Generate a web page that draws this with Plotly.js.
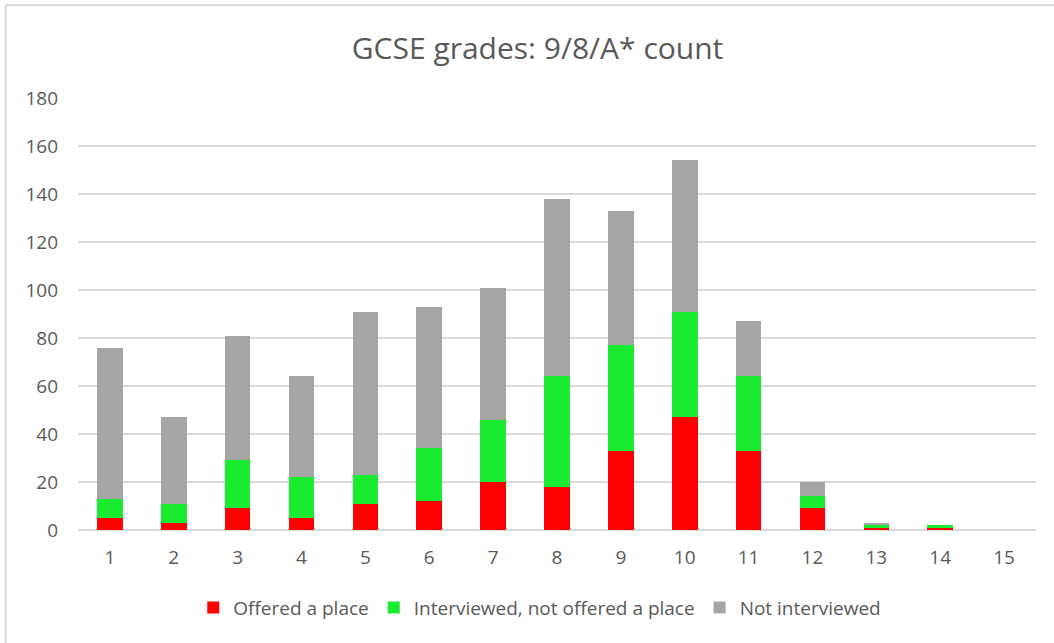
<!DOCTYPE html>
<html>
<head>
<meta charset="utf-8">
<script src="https://cdn.plot.ly/plotly-3.0.1.min.js"></script>
<style>
html,body{margin:0;padding:0;background:#fff;}
#chart{width:1054px;height:643px;}
</style>
</head>
<body>
<div id="chart"></div>
<script>
const categories = ["1","2","3","4","5","6","7","8","9","10","11","12","13","14","15"];
const offered = [5, 3, 9, 5, 11, 12, 20, 18, 33, 47, 33, 9, 1, 1, 0];
const interviewedNotOffered = [8, 8, 20, 17, 12, 22, 26, 46, 44, 44, 31, 5, 1, 1, 0];
const notInterviewed = [63, 36, 52, 42, 68, 59, 55, 74, 56, 63, 23, 6, 1, 0, 0];
const seriesNames = ["Offered a place", "Interviewed, not offered a place", "Not interviewed"];
const seriesColors = ["#FF0000", "#19EB30", "#A5A5A5"];
const yTicks = [0, 20, 40, 60, 80, 100, 120, 140, 160, 180];

const textColor = "#595959";
const fontFam = "'Open Sans', 'Noto Sans', sans-serif";

const data = [offered, interviewedNotOffered, notInterviewed].map((vals, i) => ({
  type: "bar",
  x: categories,
  y: vals,
  name: seriesNames[i],
  marker: {color: seriesColors[i], line: {width: 0}},
  hoverinfo: "x+y+name"
}));

const layout = {
  width: 1054,
  height: 643,
  paper_bgcolor: "#ffffff",
  plot_bgcolor: "#ffffff",
  barmode: "stack",
  bargap: 0.6,
  margin: {l: 78, r: 18, t: 98, b: 113},
  title: {
    text: "GCSE grades: 9/8/A* count",
    font: {family: fontFam, size: 30, color: textColor},
    x: 0.51, xanchor: "center",
    y: 0.925, yanchor: "middle"
  },
  font: {family: fontFam, color: textColor},
  xaxis: {
    type: "category",
    tickfont: {size: 19, color: textColor},
    showgrid: false,
    zeroline: false,
    showline: false,
    ticks: "",
    ticklabelstandoff: 14,
    fixedrange: true
  },
  yaxis: {
    range: [0, 180],
    tickvals: yTicks,
    ticktext: yTicks.map(String),
    tickfont: {size: 19, color: textColor},
    showgrid: true,
    gridcolor: "#D9D9D9",
    gridwidth: 1.5,
    zeroline: true,
    zerolinecolor: "#D9D9D9",
    zerolinewidth: 1.5,
    ticks: "",
    ticklabelstandoff: 19,
    fixedrange: true
  },
  showlegend: true,
  legend: {
    orientation: "h",
    x: 0.482, xanchor: "center",
    y: -0.18, yanchor: "middle",
    font: {size: 19, color: textColor},
    traceorder: "normal",
    itemclick: false,
    itemwidth: 30
  },
  shapes: [
    {type: "line", xref: "paper", yref: "paper", x0: -0.0755, x1: -0.0755, y0: -0.3, y1: 1.2153,
     line: {color: "#D9D9D9", width: 2}},
    {type: "line", xref: "paper", yref: "paper", x0: -0.0755, x1: 1.05, y0: 1.2153, y1: 1.2153,
     line: {color: "#D9D9D9", width: 2}}
  ]
};

Plotly.newPlot("chart", data, layout, {displayModeBar: false, staticPlot: true});
</script>
</body>
</html>
